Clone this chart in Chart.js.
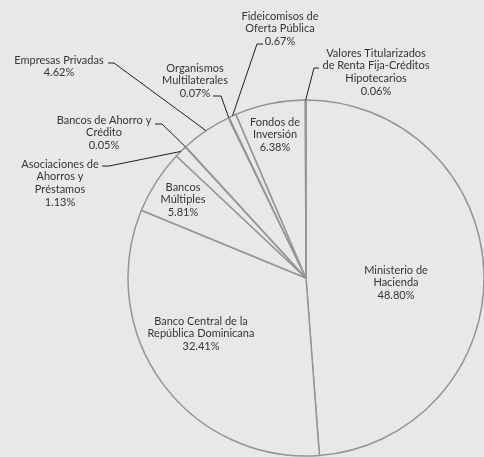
<!DOCTYPE html>
<html>
<head>
<meta charset="utf-8">
<script src="https://cdn.jsdelivr.net/npm/chart.js@4/dist/chart.umd.min.js"></script>
<style>
    html, body { margin: 0; padding: 0; background: #e7e8ea; }
    #wrap { width: 484px; height: 457px; position: relative; }
</style>
</head>
<body>
<div id="wrap"><canvas id="pieChart" width="484" height="457"></canvas></div>
<script>
// ==========================================
// DATA
// ==========================================
const categories = [
    'Ministerio de Hacienda',
    'Banco Central de la República Dominicana',
    'Bancos Múltiples',
    'Asociaciones de Ahorros y Préstamos',
    'Bancos de Ahorro y Crédito',
    'Empresas Privadas',
    'Organismos Multilaterales',
    'Fideicomisos de Oferta Pública',
    'Fondos de Inversión',
    'Valores Titularizados de Renta Fija-Créditos Hipotecarios'
];
const shares = [48.80, 32.41, 5.81, 1.13, 0.05, 4.62, 0.07, 0.67, 6.38, 0.06];

// wrapped label text, one entry per category
const labelLines = [
    ['Ministerio de', 'Hacienda'],
    ['Banco Central de la', 'República Dominicana'],
    ['Bancos', 'Múltiples'],
    ['Asociaciones de', 'Ahorros y', 'Préstamos'],
    ['Bancos de Ahorro y', 'Crédito'],
    ['Empresas Privadas'],
    ['Organismos', 'Multilaterales'],
    ['Fideicomisos de', 'Oferta Pública'],
    ['Fondos de', 'Inversión'],
    ['Valores Titularizados', 'de Renta Fija-Créditos', 'Hipotecarios']
];

// label placement (text centre x, first line y, leader tick [from x, to x, y])
const labelPos = [
    { x: 396, y: 270 },
    { x: 201, y: 321 },
    { x: 183, y: 187 },
    { x: 60,  y: 164, tick: [102, 109, 166] },
    { x: 104, y: 120, tick: [155, 162, 124] },
    { x: 59,  y: 60,  tick: [108, 114, 63] },
    { x: 195, y: 68,  tick: [213, 221, 96] },
    { x: 280, y: 16,  tick: [263, 257, 44] },
    { x: 275, y: 122 },
    { x: 376, y: 53,  tick: [319, 314, 68] }
];

const lineHeight = 12.7;
const textColor = '#353535';

// ==========================================
// LABEL PLUGIN
// ==========================================
const pieLabels = {
    id: 'pieLabels',
    afterDraw(chart) {
        const ctx = chart.ctx;
        const arcs = chart.getDatasetMeta(0).data;
        ctx.save();
        ctx.font = '11px Lato, "Open Sans", sans-serif';
        ctx.fillStyle = textColor;
        ctx.textAlign = 'center';
        ctx.textBaseline = 'middle';

        arcs.forEach((arc, i) => {
            const pos = labelPos[i];
            const lines = labelLines[i].concat([shares[i].toFixed(2) + '%']);
            lines.forEach((txt, k) => {
                ctx.fillText(txt, pos.x, pos.y + k * lineHeight);
            });

            if (pos.tick) {
                const p = arc.getProps(['x', 'y', 'startAngle', 'endAngle', 'outerRadius'], true);
                const mid = (p.startAngle + p.endAngle) / 2;
                const ex = p.x + Math.cos(mid) * p.outerRadius;
                const ey = p.y + Math.sin(mid) * p.outerRadius;
                ctx.strokeStyle = '#1e1e1e';
                ctx.lineWidth = 1;
                ctx.beginPath();
                ctx.moveTo(pos.tick[0], pos.tick[2]);
                ctx.lineTo(pos.tick[1], pos.tick[2]);
                ctx.lineTo(ex, ey);
                ctx.stroke();
            }
        });
        ctx.restore();
    }
};

// ==========================================
// CHART
// ==========================================
const ctx = document.getElementById('pieChart').getContext('2d');
new Chart(ctx, {
    type: 'pie',
    data: {
        labels: categories,
        datasets: [{
            data: shares,
            backgroundColor: '#e7e8ea',
            borderColor: '#959597',
            borderWidth: 1.5
        }]
    },
    options: {
        responsive: false,
        animation: false,
        radius: 178,
        layout: {
            padding: { top: 99, bottom: 0, left: 128, right: 0 }
        },
        plugins: {
            legend: { display: false },
            tooltip: { enabled: false }
        }
    },
    plugins: [pieLabels]
});
</script>
</body>
</html>
